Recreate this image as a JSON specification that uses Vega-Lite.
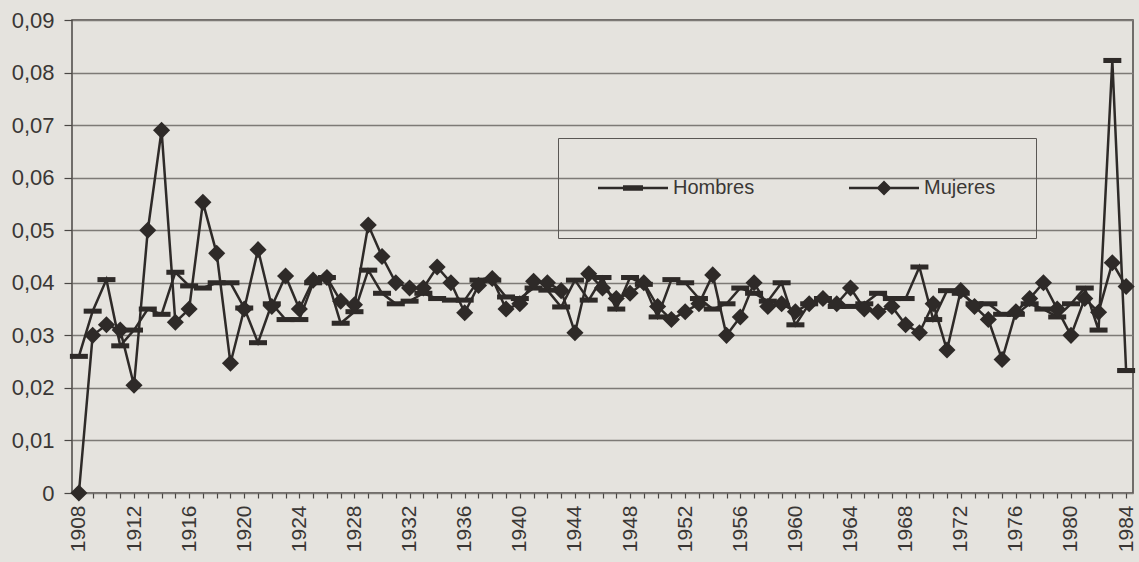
{
  "$schema": "https://vega.github.io/schema/vega-lite/v6.json",
  "width": 1061,
  "height": 473,
  "autosize": {"type": "none"},
  "padding": {"left": 72, "top": 20, "right": 6, "bottom": 69},
  "background": "#e5e3de",
  "config": {
    "view": {"stroke": "#4a4744", "strokeWidth": 1.5},
    "font": "Liberation Sans, Arial, sans-serif"
  },
  "data": {
    "values": [
      {"year": 1908, "Hombres": 0.026, "Mujeres": 0.0},
      {"year": 1909, "Hombres": 0.0346, "Mujeres": 0.030},
      {"year": 1910, "Hombres": 0.0406, "Mujeres": 0.032},
      {"year": 1911, "Hombres": 0.028, "Mujeres": 0.031},
      {"year": 1912, "Hombres": 0.031, "Mujeres": 0.0205},
      {"year": 1913, "Hombres": 0.035, "Mujeres": 0.050},
      {"year": 1914, "Hombres": 0.034, "Mujeres": 0.069},
      {"year": 1915, "Hombres": 0.042, "Mujeres": 0.0325},
      {"year": 1916, "Hombres": 0.0394, "Mujeres": 0.035},
      {"year": 1917, "Hombres": 0.039, "Mujeres": 0.0553},
      {"year": 1918, "Hombres": 0.040, "Mujeres": 0.0456},
      {"year": 1919, "Hombres": 0.040, "Mujeres": 0.0247},
      {"year": 1920, "Hombres": 0.0352, "Mujeres": 0.035},
      {"year": 1921, "Hombres": 0.0286, "Mujeres": 0.0463},
      {"year": 1922, "Hombres": 0.036, "Mujeres": 0.0355},
      {"year": 1923, "Hombres": 0.033, "Mujeres": 0.0413},
      {"year": 1924, "Hombres": 0.033, "Mujeres": 0.035},
      {"year": 1925, "Hombres": 0.040, "Mujeres": 0.0405},
      {"year": 1926, "Hombres": 0.041, "Mujeres": 0.041},
      {"year": 1927, "Hombres": 0.0323, "Mujeres": 0.0365},
      {"year": 1928, "Hombres": 0.0345, "Mujeres": 0.0358},
      {"year": 1929, "Hombres": 0.0424, "Mujeres": 0.051},
      {"year": 1930, "Hombres": 0.038, "Mujeres": 0.045},
      {"year": 1931, "Hombres": 0.036, "Mujeres": 0.040},
      {"year": 1932, "Hombres": 0.0365, "Mujeres": 0.039},
      {"year": 1933, "Hombres": 0.038, "Mujeres": 0.039},
      {"year": 1934, "Hombres": 0.037, "Mujeres": 0.043},
      {"year": 1935, "Hombres": 0.0367, "Mujeres": 0.040},
      {"year": 1936, "Hombres": 0.0367, "Mujeres": 0.0343},
      {"year": 1937, "Hombres": 0.0405, "Mujeres": 0.0395},
      {"year": 1938, "Hombres": 0.0405, "Mujeres": 0.0408},
      {"year": 1939, "Hombres": 0.0373, "Mujeres": 0.035},
      {"year": 1940, "Hombres": 0.037, "Mujeres": 0.036},
      {"year": 1941, "Hombres": 0.039, "Mujeres": 0.0403},
      {"year": 1942, "Hombres": 0.0386, "Mujeres": 0.040},
      {"year": 1943, "Hombres": 0.0354, "Mujeres": 0.0385},
      {"year": 1944, "Hombres": 0.0405, "Mujeres": 0.0305},
      {"year": 1945, "Hombres": 0.0367, "Mujeres": 0.0417},
      {"year": 1946, "Hombres": 0.041, "Mujeres": 0.039},
      {"year": 1947, "Hombres": 0.035, "Mujeres": 0.037},
      {"year": 1948, "Hombres": 0.041, "Mujeres": 0.038},
      {"year": 1949, "Hombres": 0.0397, "Mujeres": 0.040},
      {"year": 1950, "Hombres": 0.0335, "Mujeres": 0.0355},
      {"year": 1951, "Hombres": 0.0406, "Mujeres": 0.033},
      {"year": 1952, "Hombres": 0.040, "Mujeres": 0.0345},
      {"year": 1953, "Hombres": 0.037, "Mujeres": 0.036},
      {"year": 1954, "Hombres": 0.035, "Mujeres": 0.0415},
      {"year": 1955, "Hombres": 0.036, "Mujeres": 0.030},
      {"year": 1956, "Hombres": 0.039, "Mujeres": 0.0335},
      {"year": 1957, "Hombres": 0.038, "Mujeres": 0.040},
      {"year": 1958, "Hombres": 0.0365, "Mujeres": 0.0355},
      {"year": 1959, "Hombres": 0.040, "Mujeres": 0.036},
      {"year": 1960, "Hombres": 0.032, "Mujeres": 0.0345},
      {"year": 1961, "Hombres": 0.036, "Mujeres": 0.036},
      {"year": 1962, "Hombres": 0.037, "Mujeres": 0.037},
      {"year": 1963, "Hombres": 0.0355, "Mujeres": 0.036},
      {"year": 1964, "Hombres": 0.0355, "Mujeres": 0.039},
      {"year": 1965, "Hombres": 0.036, "Mujeres": 0.035},
      {"year": 1966, "Hombres": 0.038, "Mujeres": 0.0345},
      {"year": 1967, "Hombres": 0.037, "Mujeres": 0.0355},
      {"year": 1968, "Hombres": 0.037, "Mujeres": 0.032},
      {"year": 1969, "Hombres": 0.043, "Mujeres": 0.0305},
      {"year": 1970, "Hombres": 0.033, "Mujeres": 0.036},
      {"year": 1971, "Hombres": 0.0385, "Mujeres": 0.0272},
      {"year": 1972, "Hombres": 0.038, "Mujeres": 0.0385},
      {"year": 1973, "Hombres": 0.036, "Mujeres": 0.0355},
      {"year": 1974, "Hombres": 0.036, "Mujeres": 0.033},
      {"year": 1975, "Hombres": 0.034, "Mujeres": 0.0254},
      {"year": 1976, "Hombres": 0.034, "Mujeres": 0.0345},
      {"year": 1977, "Hombres": 0.036, "Mujeres": 0.037},
      {"year": 1978, "Hombres": 0.035, "Mujeres": 0.040},
      {"year": 1979, "Hombres": 0.0335, "Mujeres": 0.035},
      {"year": 1980, "Hombres": 0.036, "Mujeres": 0.030},
      {"year": 1981, "Hombres": 0.039, "Mujeres": 0.037},
      {"year": 1982, "Hombres": 0.031, "Mujeres": 0.0344},
      {"year": 1983, "Hombres": 0.0823, "Mujeres": 0.0438},
      {"year": 1984, "Hombres": 0.0233, "Mujeres": 0.0393}
    ]
  },
  "transform": [{"fold": ["Hombres", "Mujeres"], "as": ["series", "value"]}],
  "encoding": {
    "x": {
      "field": "year",
      "type": "quantitative",
      "scale": {"domain": [1907.5, 1984.5], "nice": false, "zero": false},
      "axis": {
        "title": null,
        "values": [1908,1909,1910,1911,1912,1913,1914,1915,1916,1917,1918,1919,1920,1921,1922,1923,1924,1925,1926,1927,1928,1929,1930,1931,1932,1933,1934,1935,1936,1937,1938,1939,1940,1941,1942,1943,1944,1945,1946,1947,1948,1949,1950,1951,1952,1953,1954,1955,1956,1957,1958,1959,1960,1961,1962,1963,1964,1965,1966,1967,1968,1969,1970,1971,1972,1973,1974,1975,1976,1977,1978,1979,1980,1981,1982,1983,1984],
        "labelExpr": "datum.value % 4 == 0 ? '' + datum.value : ''",
        "labelAngle": -90,
        "labelAlign": "right",
        "labelBaseline": "middle",
        "labelOverlap": false,
        "labelFlush": false,
        "labelFontSize": 21,
        "labelColor": "#3a3735",
        "labelPadding": 7,
        "tickSize": 5,
        "tickColor": "#4a4744",
        "tickWidth": 1.2,
        "domain": false,
        "grid": false
      }
    },
    "y": {
      "field": "value",
      "type": "quantitative",
      "scale": {"domain": [0, 0.09], "nice": false},
      "axis": {
        "title": null,
        "values": [0, 0.01, 0.02, 0.03, 0.04, 0.05, 0.06, 0.07, 0.08, 0.09],
        "labelExpr": "datum.value == 0 ? '0' : replace(format(datum.value, '.2f'), '.', ',')",
        "labelFontSize": 22,
        "labelColor": "#3a3735",
        "labelPadding": 10,
        "tickSize": 8,
        "tickColor": "#4a4744",
        "tickWidth": 1.2,
        "domain": false,
        "grid": true,
        "gridColor": "#7d7a76",
        "gridWidth": 1.5
      }
    }
  },
  "layer": [
    {
      "mark": {"type": "line", "strokeWidth": 2.5},
      "encoding": {
        "color": {
          "field": "series",
          "type": "nominal",
          "scale": {"range": ["#2e2a28", "#2e2a28"]},
          "legend": {
            "title": null,
            "orient": "none",
            "legendX": 486,
            "legendY": 118,
            "direction": "horizontal",
            "columns": 2,
            "padding": 40,
            "strokeColor": "#5a5754",
            "symbolSize": 400,
            "symbolStrokeWidth": 0,
            "columnPadding": 94,
            "labelFontSize": 20,
            "labelColor": "#3a3735",
            "labelOffset": 55,
            "encode": {
              "symbols": {
                "update": {
                  "shape": {"signal": "datum.value === 'Hombres' ? 'M-1,-0.125H6V0.125H-1Z M1.5,-0.28H3.5V0.28H1.5Z' : 'M-1,-0.125H6V0.125H-1Z M2.5,-0.75L3.25,0L2.5,0.75L1.75,0Z'"},
                  "fill": {"value": "#2e2a28"},
                  "stroke": {"value": "transparent"}
                }
              }
            }
          }
        }
      }
    },
    {
      "mark": {"type": "point", "filled": true, "opacity": 1, "color": "#2e2a28", "strokeWidth": 0, "size": 324},
      "encoding": {
        "shape": {
          "field": "series",
          "type": "nominal",
          "scale": {"range": ["M-1,-0.28H1V0.28H-1Z", "M0,-0.95L0.95,0L0,0.95L-0.95,0Z"]},
          "legend": null
        }
      }
    }
  ]
}
